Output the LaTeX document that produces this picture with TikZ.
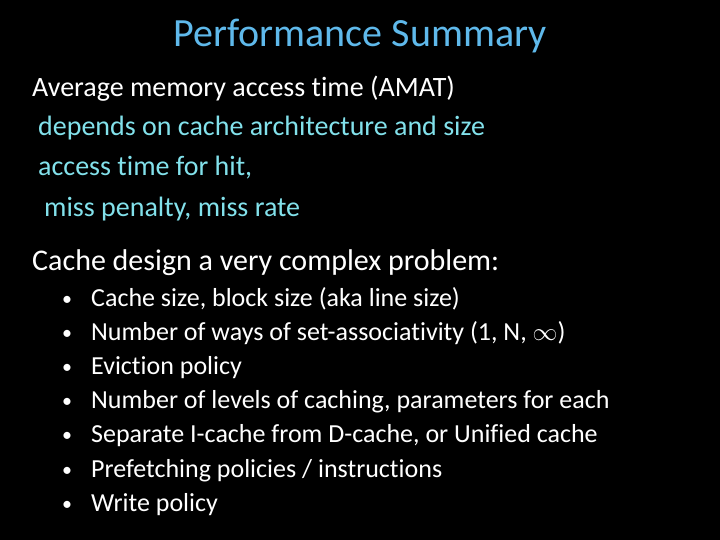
\documentclass[tikz,border=0pt]{standalone}
\usepackage{fontspec}
\setmainfont[RawFeature=-liga]{Carlito}
\definecolor{ttl}{RGB}{95,185,235}
\definecolor{sub}{RGB}{130,225,235}
\begin{document}
\begin{tikzpicture}[x=1pt,y=-1pt,
  body/.style={anchor=base west,inner sep=0pt,text=white,font=\fontsize{28}{32}\selectfont},
  subl/.style={anchor=base west,inner sep=0pt,text=sub,font=\fontsize{28}{32}\selectfont},
  item/.style={anchor=base west,inner sep=0pt,text=white,font=\fontsize{26}{30}\selectfont},
  dot/.style={anchor=base west,inner sep=0pt,text=white,font=\fontsize{20}{26}\selectfont}]
\fill[black] (0,0) rectangle (720,540);
\useasboundingbox (0,0) rectangle (720,540);
\node[anchor=base,inner sep=0pt,text=ttl,font=\fontsize{40}{44}\selectfont] (title) at (360,47) {Performance Summary};
\node[body] (l1) at (32,97) {Average memory access time (AMAT)};
\node[subl] (l2) at (38,136) {depends on cache architecture and size};
\node[subl] (l3) at (38,176) {access time for hit,};
\node[subl] (l4) at (44,217) {miss penalty, miss rate};
\node[body,font=\fontsize{30}{34}\selectfont] (l5) at (32,270) {Cache design a very complex problem:};
\foreach \y/\t [count=\i] in {306/{Cache size, block size (aka line size)},
  340/{Number of ways of set-associativity (1, N, $\infty$)},
  374/{Eviction policy},
  408/{Number of levels of caching, parameters for each},
  442/{Separate I-cache from D-cache, or Unified cache},
  477/{Prefetching policies / instructions},
  511/{Write policy}}{
  \node[dot] (b\i) at (62,\y-1) {•};
  \node[item] (t\i) at (91,\y) {\t};
}
\end{tikzpicture}
\end{document}
